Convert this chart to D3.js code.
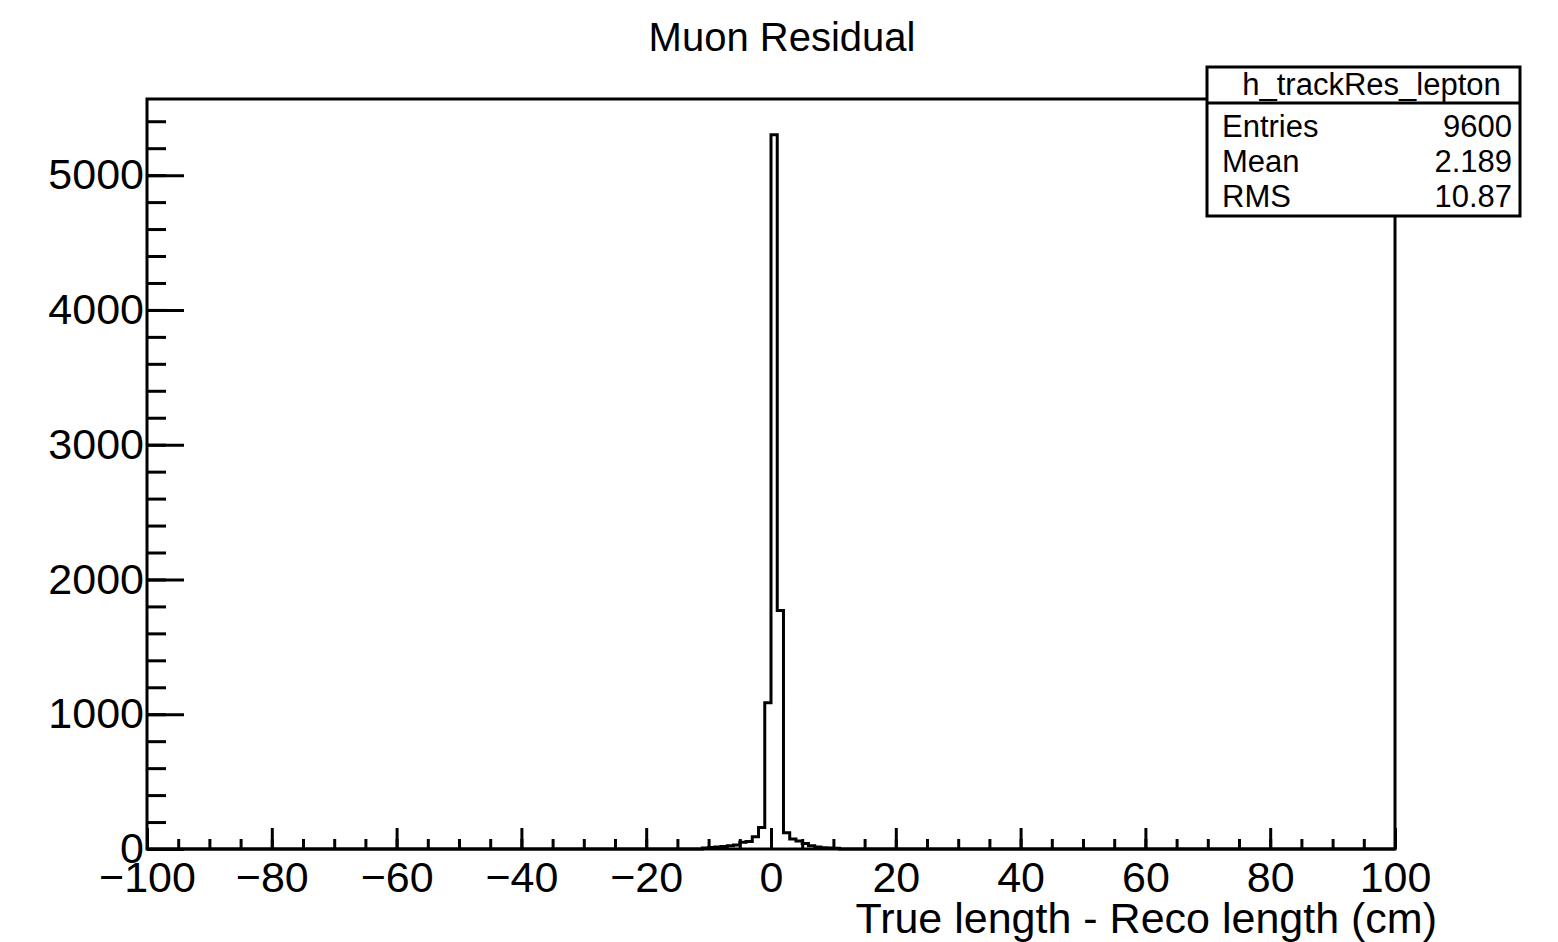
<!DOCTYPE html>
<html>
<head>
<meta charset="utf-8">
<script src="https://cdn.jsdelivr.net/npm/d3@7"></script>
<style>
  body { margin: 0; background: #fff; }
  svg { display: block; font-family: "Liberation Sans", Arial, sans-serif; }
</style>
</head>
<body>
<svg id="chart" width="1558" height="942"></svg>
<script>
// histogram settings (200 bins from -100 to 100)
const nBins = 200;
const xMin = -100;
const xMax = 100;

// non-empty bins: lower edge (cm) and content
const binLow = [-11, -10, -9, -8, -7, -6, -5, -4, -3, -2, -1, 0, 1, 2, 3, 4, 5, 6, 7, 8, 9, 10];
const binCount = [8, 12, 15, 18, 25, 30, 50, 55, 90, 160, 1085, 5300, 1770, 120, 75, 60, 40, 25, 15, 10, 8, 6];

// axis ticks
const xMajor = [-100, -80, -60, -40, -20, 0, 20, 40, 60, 80, 100];
const xMinor = d3.range(-100, 100.1, 5);
const yMajor = [0, 1000, 2000, 3000, 4000, 5000];
const yMinor = d3.range(0, 5500, 200);

// stats box
const statsName = "h_trackRes_lepton";
const statsLabels = ["Entries", "Mean", "RMS"];
const statsValues = ["9600", "2.189", "10.87"];

const title = "Muon Residual";
const xTitle = "True length - Reco length (cm)";

// layout
const frame = { left: 147, right: 1395, top: 99, bottom: 849 };
const svg = d3.select('#chart');

const x = d3.scaleLinear().domain([xMin, xMax]).range([frame.left, frame.right]);
const y = d3.scaleLinear().domain([0, 5565]).range([frame.bottom, frame.top]);

// build full bin table
const binWidth = (xMax - xMin) / nBins;
const counts = new Array(nBins).fill(0);
binLow.forEach((lo, i) => {
    const idx = Math.round((lo - xMin) / binWidth);
    counts[idx] = binCount[i];
});
const pts = counts.map((c, i) => [xMin + i * binWidth, c]);
pts.push([xMax, counts[nBins - 1]]);

// histogram outline
const line = d3.line()
    .x(d => x(d[0]))
    .y(d => y(d[1]))
    .curve(d3.curveStepAfter);

svg.append('path')
    .datum(pts)
    .attr('d', line)
    .attr('fill', 'none')
    .attr('stroke', '#000')
    .attr('stroke-width', 3);

// x axis - minor ticks
const xMinorAxis = svg.append('g')
    .attr('transform', `translate(0,${frame.bottom})`)
    .call(d3.axisBottom(x).tickValues(xMinor).tickSize(-10).tickFormat(''));

// x axis - major ticks and labels
const xAxis = svg.append('g')
    .attr('transform', `translate(0,${frame.bottom})`)
    .call(d3.axisBottom(x).tickValues(xMajor).tickSize(-21).tickPadding(12));

// y axis - minor ticks
const yMinorAxis = svg.append('g')
    .attr('transform', `translate(${frame.left},0)`)
    .call(d3.axisLeft(y).tickValues(yMinor).tickSize(-19).tickFormat(''));

// y axis - major ticks and labels
const yAxis = svg.append('g')
    .attr('transform', `translate(${frame.left},0)`)
    .call(d3.axisLeft(y).tickValues(yMajor).tickSize(-37).tickPadding(3).tickFormat(d3.format('d')));

[xMinorAxis, xAxis, yMinorAxis, yAxis].forEach(g => {
    g.select('.domain').remove();
    g.selectAll('line').attr('stroke', '#000').attr('stroke-width', 3);
    g.selectAll('text')
        .style('font-size', '43px')
        .style('font-family', '"Liberation Sans", Arial, sans-serif')
        .attr('fill', '#000');
});

// frame
svg.append('rect')
    .attr('x', frame.left)
    .attr('y', frame.top)
    .attr('width', frame.right - frame.left)
    .attr('height', frame.bottom - frame.top)
    .attr('fill', 'none')
    .attr('stroke', '#000')
    .attr('stroke-width', 3);

// title
svg.append('text')
    .attr('x', 782)
    .attr('y', 51)
    .attr('text-anchor', 'middle')
    .style('font-size', '40px')
    .text(title);

// x axis title
svg.append('text')
    .attr('x', 1437)
    .attr('y', 933)
    .attr('text-anchor', 'end')
    .style('font-size', '43px')
    .text(xTitle);

// stats box
const box = { x: 1207, y: 67, w: 313, h: 149, header: 36 };
const stats = svg.append('g');
stats.append('rect')
    .attr('x', box.x).attr('y', box.y)
    .attr('width', box.w).attr('height', box.h)
    .attr('fill', '#fff')
    .attr('stroke', '#000')
    .attr('stroke-width', 3);
stats.append('line')
    .attr('x1', box.x).attr('x2', box.x + box.w)
    .attr('y1', box.y + box.header).attr('y2', box.y + box.header)
    .attr('stroke', '#000')
    .attr('stroke-width', 3);
stats.append('text')
    .attr('x', box.x + box.w / 2 + 8)
    .attr('y', 95)
    .attr('text-anchor', 'middle')
    .style('font-size', '31px')
    .text(statsName);

const rowY = [137, 172, 207];
statsLabels.forEach((lab, i) => {
    stats.append('text')
        .attr('x', 1222)
        .attr('y', rowY[i])
        .style('font-size', '31px')
        .text(lab);
    stats.append('text')
        .attr('x', 1512)
        .attr('y', rowY[i])
        .attr('text-anchor', 'end')
        .style('font-size', '31px')
        .text(statsValues[i]);
});
</script>
</body>
</html>
